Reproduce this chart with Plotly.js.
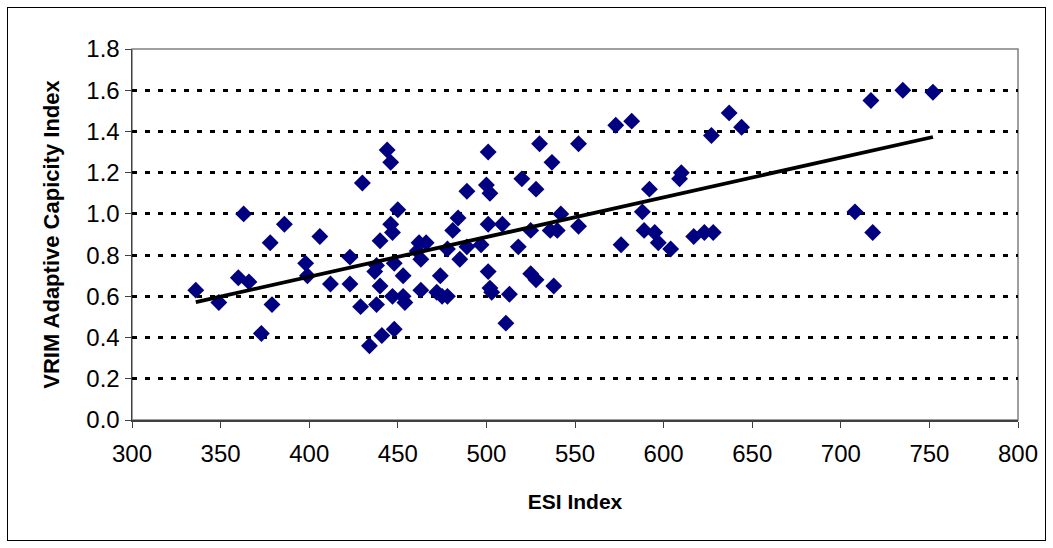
<!DOCTYPE html>
<html>
<head>
<meta charset="utf-8">
<script src="https://cdn.plot.ly/plotly-3.0.1.min.js"></script>
<style>
  html, body { margin: 0; padding: 0; background: #fff; }
  #wrap { position: relative; width: 1053px; height: 548px; }
  #chart { width: 1053px; height: 548px; }
  #frame { position: absolute; left: 7px; top: 7px; width: 1037px; height: 532px; border: 1px solid #000; pointer-events: none; }
</style>
</head>
<body>
<div id="wrap">
  <div id="chart"></div>
  <div id="frame"></div>
</div>
<script>
const esiIndex = [336, 349, 360, 363, 366, 373, 378, 379, 386, 398, 399, 406, 412, 423, 423, 429, 430, 434, 437, 438,
  438, 440, 440, 441, 444, 446, 446, 447, 447, 448, 448, 450, 453, 453, 454, 461, 462, 463, 463, 466,
  472, 474, 475, 478, 478, 481, 484, 485, 489, 489, 497, 500, 501, 501, 501, 502, 502, 503, 509, 511,
  513, 518, 520, 525, 525, 528, 528, 530, 536, 537, 538, 540, 542, 552, 552, 573, 576, 582, 588, 589,
  592, 595, 597, 604, 609, 610, 617, 623, 627, 628, 637, 644, 708, 717, 718, 735, 752];
const vrimIndex = [0.63, 0.57, 0.69, 1.00, 0.67, 0.42, 0.86, 0.56, 0.95, 0.76, 0.70, 0.89, 0.66, 0.79, 0.66, 0.55, 1.15, 0.36, 0.72, 0.75,
  0.56, 0.65, 0.87, 0.41, 1.31, 1.25, 0.95, 0.91, 0.60, 0.44, 0.76, 1.02, 0.70, 0.60, 0.57, 0.82, 0.86, 0.78, 0.63, 0.86,
  0.62, 0.70, 0.60, 0.60, 0.83, 0.92, 0.98, 0.78, 1.11, 0.84, 0.85, 1.14, 1.30, 0.95, 0.72, 1.10, 0.64, 0.62, 0.95, 0.47,
  0.61, 0.84, 1.17, 0.92, 0.71, 1.12, 0.68, 1.34, 0.92, 1.25, 0.65, 0.92, 1.00, 1.34, 0.94, 1.43, 0.85, 1.45, 1.01, 0.92,
  1.12, 0.91, 0.86, 0.83, 1.17, 1.20, 0.89, 0.91, 1.38, 0.91, 1.49, 1.42, 1.01, 1.55, 0.91, 1.60, 1.59];
const xTicks = [300, 350, 400, 450, 500, 550, 600, 650, 700, 750, 800];
const yTicks = [0.0, 0.2, 0.4, 0.6, 0.8, 1.0, 1.2, 1.4, 1.6, 1.8];

// linear trendline (least squares) computed from the data
const n = esiIndex.length;
let sx = 0, sy = 0, sxx = 0, sxy = 0;
for (let i = 0; i < n; i++) { sx += esiIndex[i]; sy += vrimIndex[i]; sxx += esiIndex[i]*esiIndex[i]; sxy += esiIndex[i]*vrimIndex[i]; }
const slope = (n*sxy - sx*sy) / (n*sxx - sx*sx);
const icpt = (sy - slope*sx) / n;
const xmin = Math.min(...esiIndex), xmax = Math.max(...esiIndex);
const trendX = [xmin, xmax];
const trendY = trendX.map(v => icpt + slope*v);

const fam = 'Liberation Sans, Arial, sans-serif';

const traces = [
  { type: 'scatter', mode: 'markers', x: esiIndex, y: vrimIndex,
    marker: { symbol: 'diamond', size: 13, color: '#000080', line: { width: 0 } }, hoverinfo: 'x+y' },
  { type: 'scatter', mode: 'lines', x: trendX, y: trendY,
    line: { color: '#000', width: 3.8 }, hoverinfo: 'skip' }
];

const layout = {
  width: 1053, height: 548,
  margin: { l: 132, r: 35, t: 49, b: 128 },
  paper_bgcolor: '#fff', plot_bgcolor: '#fff',
  showlegend: false,
  font: { family: fam, color: '#000' },
  xaxis: {
    range: [300, 800], tickvals: xTicks, ticktext: xTicks.map(String),
    showgrid: false, zeroline: false,
    showline: true, linecolor: '#404040', linewidth: 1.5,
    ticks: 'outside', ticklen: 6, tickcolor: '#404040', tickwidth: 1,
    ticklabelstandoff: 6,
    tickfont: { family: fam, size: 24, color: '#000' },
    title: { text: '<b>ESI Index</b>', font: { family: fam, size: 21, color: '#000' }, standoff: 28 }
  },
  yaxis: {
    range: [0, 1.8], tickvals: yTicks, ticktext: yTicks.map(v => v.toFixed(1)),
    showgrid: true, gridcolor: '#000', gridwidth: 3, griddash: '5px,8px',
    zeroline: false,
    showline: true, linecolor: '#404040', linewidth: 1.5,
    ticks: 'outside', ticklen: 6, tickcolor: '#404040', tickwidth: 1,
    tickfont: { family: fam, size: 24, color: '#000' },
    title: { text: '<b>VRIM Adaptive Capicity Index</b>', font: { family: fam, size: 22, color: '#000' }, standoff: 20 }
  },
  shapes: [
    { type: 'rect', xref: 'paper', yref: 'paper', x0: 0, x1: 1, y0: 0, y1: 1,
      line: { color: '#808080', width: 1.5 }, layer: 'below' }
  ]
};

Plotly.newPlot('chart', traces, layout, { displayModeBar: false, staticPlot: true });
</script>
</body>
</html>
